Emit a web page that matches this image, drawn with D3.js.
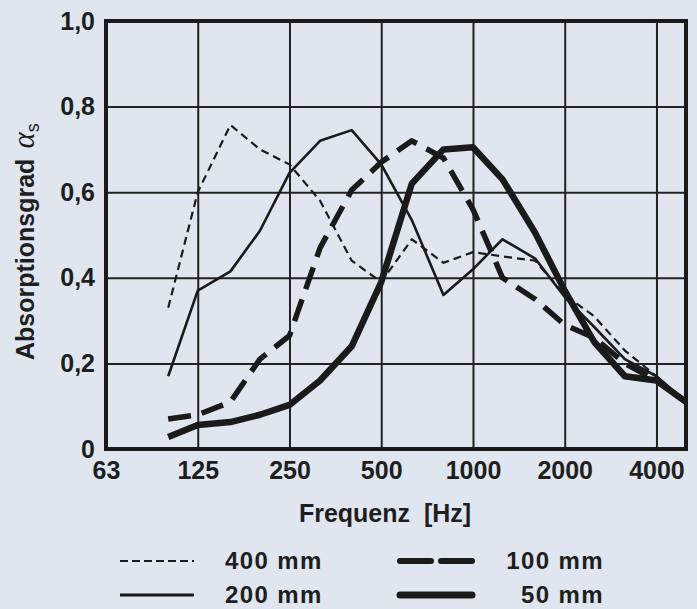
<!DOCTYPE html>
<html>
<head>
<meta charset="utf-8">
<script src="https://cdn.jsdelivr.net/npm/d3@7"></script>
<style>
  html, body { margin: 0; padding: 0; background: #e0e6ef; }
  text { font-family: "Liberation Sans", Arial, sans-serif; font-weight: bold; fill: #1e1e1e; }
</style>
</head>
<body>
<script>
// terzband frequencies (Hz)
var freqs = [100, 125, 160, 200, 250, 315, 400, 500, 630, 800, 1000, 1250, 1600, 2000, 2500, 3150, 4000, 5000];

var a400 = [0.33, 0.60, 0.757, 0.70, 0.665, 0.58, 0.44, 0.39, 0.49, 0.435, 0.46, 0.45, 0.44, 0.36, 0.31, 0.23, 0.17, 0.11];
var a200 = [0.17, 0.37, 0.415, 0.51, 0.645, 0.72, 0.745, 0.665, 0.535, 0.36, 0.42, 0.49, 0.445, 0.355, 0.285, 0.21, 0.17, 0.11];
var a100 = [0.07, 0.08, 0.11, 0.21, 0.265, 0.47, 0.605, 0.67, 0.72, 0.68, 0.56, 0.40, 0.35, 0.29, 0.26, 0.20, 0.16, 0.11];
var a50  = [0.028, 0.056, 0.063, 0.08, 0.103, 0.16, 0.24, 0.39, 0.62, 0.70, 0.705, 0.63, 0.505, 0.37, 0.25, 0.17, 0.16, 0.11];

var xTicks = [62.5, 125, 250, 500, 1000, 2000, 4000];
var xTickLabels = ["63", "125", "250", "500", "1000", "2000", "4000"];
var yTicks = [0, 0.2, 0.4, 0.6, 0.8, 1.0];
var yTickLabels = ["0", "0,2", "0,4", "0,6", "0,8", "1,0"];

var seriesNames = ["400 mm", "200 mm", "100 mm", "50 mm"];

var pLeft = 106, pRight = 686, pTop = 21, pBottom = 449;

var svg = d3.select("body")
    .append("svg")
    .attr("width", 697)
    .attr("height", 609)
    .style("display", "block");

var x = d3.scaleLog().base(2)
    .domain([62.5, 5000])
    .range([pLeft, pRight]);

var y = d3.scaleLinear()
    .domain([0, 1])
    .range([pBottom, pTop]);

// grid + tick labels
var xAxis = svg.append("g")
    .attr("transform", "translate(0," + pBottom + ")")
    .call(d3.axisBottom(x)
        .tickValues(xTicks)
        .tickFormat(function(d, i) { return xTickLabels[i]; })
        .tickSize(-(pBottom - pTop))
        .tickPadding(12));

var yAxis = svg.append("g")
    .attr("transform", "translate(" + pLeft + ",0)")
    .call(d3.axisLeft(y)
        .tickValues(yTicks)
        .tickFormat(function(d, i) { return yTickLabels[i]; })
        .tickSize(-(pRight - pLeft))
        .tickPadding(11));

[xAxis, yAxis].forEach(function(g) {
    g.select(".domain").remove();
    g.selectAll(".tick line").attr("stroke", "#222").attr("stroke-width", 2);
    g.selectAll(".tick text")
        .attr("font-size", "25px")
        .attr("font-family", null)
        .attr("fill", "#1e1e1e");
});

// frame
svg.append("rect")
    .attr("x", pLeft)
    .attr("y", pTop)
    .attr("width", pRight - pLeft)
    .attr("height", pBottom - pTop)
    .attr("fill", "none")
    .attr("stroke", "#1a1a1a")
    .attr("stroke-width", 4);

svg.append("clipPath")
    .attr("id", "plot")
    .append("rect")
    .attr("x", pLeft)
    .attr("y", pTop)
    .attr("width", pRight - pLeft)
    .attr("height", pBottom - pTop);

var line = d3.line()
    .x(function(d, i) { return x(freqs[i]); })
    .y(function(d) { return y(d); });

var styles = [
    { data: a400, width: 2.2, dash: "8,5" },
    { data: a200, width: 2.6, dash: null },
    { data: a100, width: 5.5, dash: "23,11" },
    { data: a50,  width: 6.5, dash: null }
];

styles.forEach(function(s) {
    svg.append("path")
        .attr("clip-path", "url(#plot)")
        .attr("d", line(s.data))
        .attr("fill", "none")
        .attr("stroke", "#1a1a1a")
        .attr("stroke-width", s.width)
        .attr("stroke-linejoin", "round")
        .attr("stroke-dasharray", s.dash);
});

// axis titles
svg.append("text")
    .attr("x", 385)
    .attr("y", 522)
    .attr("text-anchor", "middle")
    .attr("font-size", "25px")
    .attr("xml:space", "preserve")
    .text("Frequenz  [Hz]");

var ylab = svg.append("text")
    .attr("transform", "translate(34,360) rotate(-90)")
    .attr("font-size", "25px");
ylab.append("tspan").text("Absorptionsgrad");
ylab.append("tspan")
    .attr("dx", 10)
    .attr("font-family", "'Liberation Serif', serif")
    .attr("font-style", "italic")
    .attr("font-weight", "normal")
    .attr("font-size", "31px")
    .text("α");
ylab.append("tspan")
    .attr("dy", 5)
    .attr("font-weight", "normal")
    .attr("font-size", "18px")
    .text("s");

// legend
var legendPos = [
    { x1: 120, x2: 194, y: 561, width: 2.2, dash: "8,4", tx: 225, anchor: "start" },
    { x1: 120, x2: 194, y: 595, width: 2.8, dash: null, tx: 225, anchor: "start" },
    { x1: 400, x2: 472, y: 561, width: 6, dash: "31,10", tx: 604, anchor: "end" },
    { x1: 400, x2: 472, y: 595, width: 7, dash: null, tx: 604, anchor: "end" }
];

legendPos.forEach(function(p, i) {
    svg.append("line")
        .attr("x1", p.x1)
        .attr("y1", p.y)
        .attr("x2", p.x2)
        .attr("y2", p.y)
        .attr("stroke", "#1a1a1a")
        .attr("stroke-width", p.width)
        .attr("stroke-linecap", p.width > 5 ? "round" : "butt")
        .attr("stroke-dasharray", p.dash);

    svg.append("text")
        .attr("x", p.tx)
        .attr("y", p.y + 8)
        .attr("text-anchor", p.anchor)
        .attr("font-size", "24px")
        .attr("letter-spacing", "1.4px")
        .text(seriesNames[i]);
});
</script>
</body>
</html>
